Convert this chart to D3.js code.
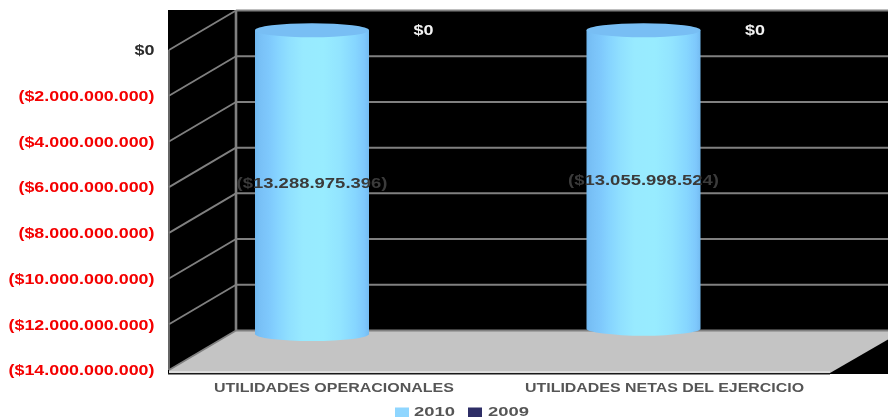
<!DOCTYPE html>
<html><head><meta charset="utf-8">
<script src="https://cdn.jsdelivr.net/npm/d3@7"></script>
<style>html,body{margin:0;padding:0;background:#fff}svg{display:block}
text{font-family:"Liberation Sans",Arial,sans-serif;font-weight:bold}</style></head>
<body><svg id="c" width="888" height="419"></svg>
<script>
const categories = ["UTILIDADES OPERACIONALES", "UTILIDADES NETAS DEL EJERCICIO"];
const seriesNames = ["2010", "2009"];
const values2010 = [-13288975396, -13055998524];
const values2009 = [0, 0];
const valueLabels2010 = ["($13.288.975.396)", "($13.055.998.524)"];
const valueLabels2009 = ["$0", "$0"];
const tickValues = [0, -2e9, -4e9, -6e9, -8e9, -10e9, -12e9, -14e9];
const tickLabels = ["$0", "($2.000.000.000)", "($4.000.000.000)", "($6.000.000.000)", "($8.000.000.000)", "($10.000.000.000)", "($12.000.000.000)", "($14.000.000.000)"];
const seriesColors = ["#8fd6ff", "#2e2e66"];

const W = 888;
const svg = d3.select("#c");
const depthX = 67, depthY = -39.5;
const frontLeft = 169, frontRight = 832;
const y = d3.scaleLinear().domain([0, -14e9]).range([50, 370]);
const x0 = d3.scaleBand().domain(categories).range([frontLeft, frontRight]);
const x1 = d3.scaleBand().domain(seriesNames).range([53, 277]);
const grid = "#808080";
const defs = svg.append("defs");
const stops = [[0,"#70b8f0"],[.04,"#78c0f6"],[.12,"#7ec8fc"],[.2,"#86d4ff"],[.3,"#90e0ff"],[.42,"#98eaff"],[.6,"#98ecff"],[.75,"#92e4ff"],[.88,"#86d6ff"],[.96,"#7ec8fc"],[1,"#74bcf2"]];
const g = defs.append("linearGradient").attr("id","cyl");
stops.forEach(s => g.append("stop").attr("offset",s[0]).attr("stop-color",s[1]));
const soft = defs.append("filter").attr("id","soft").attr("x","-5%").attr("y","-30%").attr("width","110%").attr("height","160%");
soft.append("feGaussianBlur").attr("stdDeviation",0.4);

const floorY = y(-14e9), backFloorY = floorY + depthY;

// plot background
svg.append("rect").attr("x",168).attr("y",10).attr("width",W-168).attr("height",364).attr("fill","#000");

// floor
svg.append("path").attr("d", d3.line()([
  [frontLeft, floorY], [frontLeft+depthX, backFloorY], [W, backFloorY],
  [W, backFloorY+9], [frontRight-2, floorY+3], [frontLeft, floorY+3]])+"Z").attr("fill","#c4c4c4");
svg.append("line").attr("x1",frontLeft).attr("x2",frontRight-2).attr("y1",floorY+2).attr("y2",floorY+2).attr("stroke","#e6e6e6").attr("stroke-width",1.5);
svg.append("line").attr("x1",168).attr("x2",frontRight-2).attr("y1",floorY+4.2).attr("y2",floorY+4.2).attr("stroke","#555").attr("stroke-width",1);

// gridlines
const gridG = svg.append("g").attr("filter","url(#soft)");
tickValues.forEach(v => {
  const yy = y(v);
  gridG.append("line").attr("x1",frontLeft).attr("y1",yy).attr("x2",frontLeft+depthX).attr("y2",yy+depthY).attr("stroke",grid).attr("stroke-width",1.8);
  gridG.append("line").attr("x1",frontLeft+depthX).attr("y1",yy+depthY).attr("x2",W).attr("y2",yy+depthY).attr("stroke",grid).attr("stroke-width",2);
});
gridG.append("line").attr("x1",frontLeft).attr("x2",frontLeft).attr("y1",y(0)).attr("y2",floorY).attr("stroke",grid).attr("stroke-width",1.6);
gridG.append("line").attr("x1",frontLeft+depthX).attr("x2",frontLeft+depthX).attr("y1",y(0)+depthY).attr("y2",backFloorY).attr("stroke",grid).attr("stroke-width",2.6);

// cylinders
const midDepth = depthY/2, rx = 57, ry = 7;
categories.forEach((c,i) => {
  const cx = x0(c) + depthX/2 + x1("2010") + x1.bandwidth()/2 + 0.5;
  const top = y(0)+midDepth, bot = y(values2010[i])+midDepth;
  svg.append("path").attr("d",`M${cx-rx},${top} L${cx-rx},${bot} A${rx},${ry} 0 0 0 ${cx+rx},${bot} L${cx+rx},${top} Z`).attr("fill","url(#cyl)").attr("filter","url(#soft)");
  svg.append("ellipse").attr("cx",cx).attr("cy",top).attr("rx",rx).attr("ry",ry).attr("fill","#78bef4").attr("filter","url(#soft)");
  svg.append("text").attr("x",cx).attr("y",(top+bot)/2).attr("dy","0.36em").attr("text-anchor","middle").attr("fill","#3a3a3a").attr("font-size",15).attr("textLength",151).attr("lengthAdjust","spacingAndGlyphs").attr("filter","url(#soft)").text(valueLabels2010[i]);
  const zx = x0(c) + depthX/2 + x1("2009") + x1.bandwidth()/2;
  svg.append("text").attr("x",zx).attr("y",top).attr("dy","0.36em").attr("text-anchor","middle").attr("fill","#f2f2f2").attr("font-size",14.5).attr("textLength",20).attr("lengthAdjust","spacingAndGlyphs").attr("filter","url(#soft)").text(valueLabels2009[i]);
});

// y tick labels
const tickWidth = s => s.length === 2 ? 20 : (s.length === 16 ? 136 : 146);
tickValues.forEach((v,i) => {
  svg.append("text").attr("x",154.5).attr("y",y(v)).attr("dy","0.36em").attr("text-anchor","end")
    .attr("fill", v===0 ? "#2b2b2b" : "#f40000").attr("font-size",14.5)
    .attr("textLength", tickWidth(tickLabels[i])).attr("lengthAdjust","spacingAndGlyphs").attr("filter","url(#soft)").text(tickLabels[i]);
});

// category labels
categories.forEach((c,i) => {
  svg.append("text").attr("x",x0(c)+x0.bandwidth()/2-(i===0?0.8:1.7)).attr("y",392).attr("text-anchor","middle").attr("fill","#555").attr("font-size",13.5)
    .attr("textLength", i===0?240:279).attr("lengthAdjust","spacingAndGlyphs").attr("filter","url(#soft)").text(c);
});

// legend
const lx = [395, 468], tx = [414, 488];
seriesNames.forEach((s,i) => {
  svg.append("rect").attr("x",lx[i]).attr("y",407.5).attr("width",14).attr("height",9.5).attr("fill",seriesColors[i]);
  svg.append("text").attr("x",tx[i]).attr("y",416).attr("fill","#555").attr("font-size",12.5).attr("textLength",41).attr("lengthAdjust","spacingAndGlyphs").attr("filter","url(#soft)").text(s);
});
</script></body></html>
